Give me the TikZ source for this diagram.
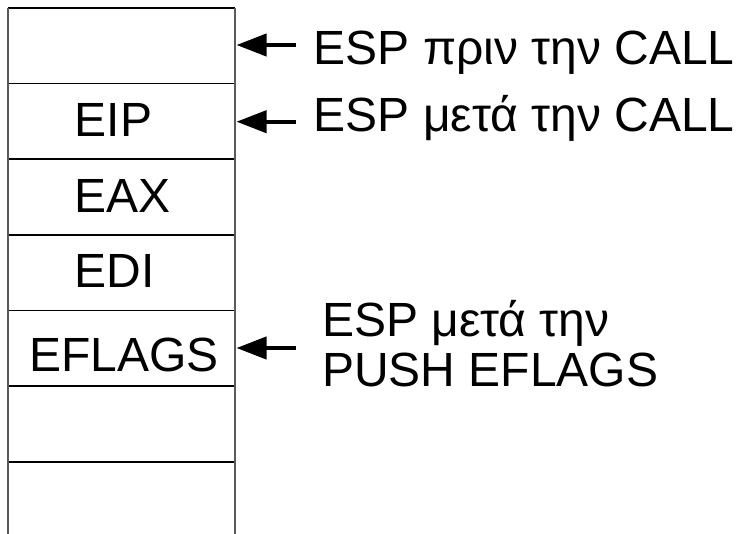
\documentclass[tikz,border=0pt]{standalone}
\usepackage{fontspec}
\setmainfont{Liberation Sans}
\usetikzlibrary{arrows.meta}
\begin{document}
\begin{tikzpicture}[x=1pt,y=-1pt,
  lbl/.style={anchor=base west,inner sep=0pt,font=\fontsize{48}{50}\selectfont},
  hline/.style={line width=1.6pt,black},
  vline/.style={line width=1.8pt,black!65},
  arr/.style={line width=4pt,-{Triangle[length=30pt,width=22pt]}}]
\useasboundingbox (0,0) rectangle (736,534);
% stack column
\foreach \yy in {8,83.5,159,235,310.5,386,462}
  \draw[hline] (8,\yy) -- (235,\yy);
\draw[vline] (8,8) -- (8,534);
\draw[vline] (235,8) -- (235,534);
% cell texts
\node[lbl] (eip) at (74.5,137) {EIP};
\node[lbl] (eax) at (74.5,213) {EAX};
\node[lbl] (edi) at (74.5,288) {EDI};
\node[lbl] (efl) at (29,371) {EFLAGS};
% pointer labels
\node[lbl] (t1) at (313.5,65) {ESP πριν την CALL};
\node[lbl] (t2) at (313.5,131.7) {ESP μετά την CALL};
\node[lbl] (t3a) at (322,336.7) {ESP μετά την};
\node[lbl] (t3b) at (322,386.7) {PUSH EFLAGS};
% arrows
\coordinate (s1) at (296,45);   \coordinate (e1) at (236.5,45);
\coordinate (s2) at (296,121.7); \coordinate (e2) at (236.5,121.7);
\coordinate (s3) at (296,348);  \coordinate (e3) at (236.5,348);
\draw[arr] (s1) -- (e1);
\draw[arr] (s2) -- (e2);
\draw[arr] (s3) -- (e3);
\end{tikzpicture}
\end{document}
